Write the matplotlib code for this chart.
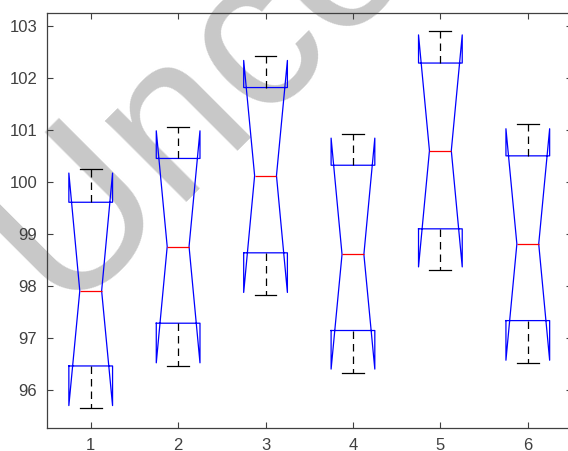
import matplotlib
matplotlib.use('Agg')
import matplotlib.pyplot as plt

# box statistics (MATLAB-style notched boxplot)
positions = [1, 2, 3, 4, 5, 6]
medians = [97.91, 98.76, 100.12, 98.61, 100.60, 98.81]
q1 = [96.47, 97.29, 98.64, 97.15, 99.10, 97.34]
q3 = [99.61, 100.45, 101.81, 100.32, 102.28, 100.50]
notch_lo = [95.71, 96.53, 97.88, 96.41, 98.37, 96.58]
notch_hi = [100.17, 100.98, 102.33, 100.84, 102.82, 101.02]
whisker_lo = [95.66, 96.47, 97.83, 96.33, 98.31, 96.53]
whisker_hi = [100.25, 101.06, 102.42, 100.92, 102.89, 101.12]
yticks = [96, 97, 98, 99, 100, 101, 102, 103]

stats = []
for i in range(len(positions)):
    stats.append(dict(med=medians[i], q1=q1[i], q3=q3[i],
                      cilo=notch_lo[i], cihi=notch_hi[i],
                      whislo=whisker_lo[i], whishi=whisker_hi[i], fliers=[]))

fig = plt.figure(figsize=(5.68, 4.51), dpi=100)
ax = fig.add_axes([47 / 568, 23 / 451, 524.5 / 568, 415 / 451])

ax.bxp(stats, positions=positions, widths=0.5, shownotches=True, showfliers=False,
       boxprops=dict(color='#0000ff', linewidth=0.9),
       medianprops=dict(color='#ff0000', linewidth=0.9),
       whiskerprops=dict(color='black', linewidth=0.9, linestyle=(0, (6, 4))),
       capprops=dict(color='black', linewidth=0.9))

# watermark behind the data
ax.text(61.5 / 568, 1 - 310.5 / 451, 'Uncorrected', transform=fig.transFigure,
        rotation=45, rotation_mode='anchor', ha='left', va='baseline',
        fontsize=156, color='#c8c8c8', family='Liberation Sans',
        zorder=0.5, clip_on=False)

ax.set_xlim(0.5, 6.5)
ax.set_ylim(95.28, 103.24)
ax.set_xticks(positions)
ax.set_xticklabels([str(p) for p in positions])
ax.set_yticks(yticks)

for s in ax.spines.values():
    s.set_color('#404040')
    s.set_linewidth(0.9)
ax.tick_params(direction='in', top=True, right=True, length=4.5, width=0.8,
               color='#404040', labelcolor='#404040', labelsize=12, pad=7)
for lab in ax.get_xticklabels() + ax.get_yticklabels():
    lab.set_family('Liberation Sans')

fig.savefig('out.png', dpi=100)
